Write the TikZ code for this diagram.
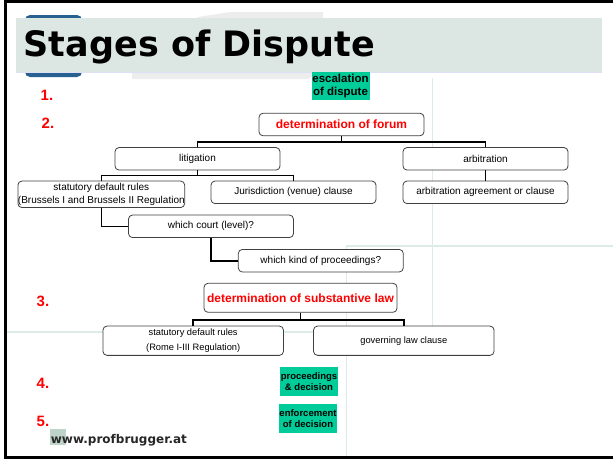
\documentclass[tikz,border=0pt]{standalone}
\usepackage{fontspec}
\setmainfont{Liberation Sans}
\newfontfamily\titlefont{DejaVu Sans}
\usetikzlibrary{positioning}

\definecolor{bandgray}{RGB}{220,230,226}
\definecolor{bandedge}{RGB}{222,224,245}
\definecolor{stepgreen}{RGB}{0,204,153}
\definecolor{faintline}{RGB}{222,236,233}
\definecolor{logoblue}{RGB}{40,96,145}
\definecolor{stepred}{RGB}{255,0,0}
\definecolor{sitesquare}{RGB}{190,212,202}

\begin{document}
\begin{tikzpicture}[
    x=1pt, y=-1pt,
    box/.style={draw=black!75, fill=white, rounded corners=4pt, line width=0.8pt,
        inner sep=0pt, align=center, minimum width=165pt, minimum height=22.5pt,
        font=\fontsize{10}{12.5}\selectfont},
    lowbox/.style={box, minimum width=180.5pt, minimum height=29.3pt,
        font=\fontsize{9.3}{15}\selectfont},
    headbox/.style={box, text=stepred, font=\fontsize{12}{14}\selectfont\bfseries},
    greenbox/.style={fill=stepgreen, inner sep=0pt, align=center,
        minimum width=58pt, minimum height=28.5pt,
        font=\fontsize{9.5}{11}\selectfont\bfseries},
    stepnum/.style={text=stepred, font=\fontsize{15}{15}\selectfont\bfseries},
    link/.style={draw, line width=1.6pt}
    ]
    \useasboundingbox (0,0) rectangle (613,459);

    % background pictures of the slide
    \fill[faintline] (431.5,78) rectangle (433,332.5);
    \fill[faintline] (5,331) rectangle (433,332.5);
    \fill[faintline] (345.5,245) rectangle (613,246.5);
    \fill[faintline] (345.5,245) rectangle (347,459);
    \fill[logoblue, rounded corners=5pt] (25,15) rectangle (82,77);
    \fill[gray!14] (198,17) -- (230,12) -- (323,12) -- (323,72) -- (307,79)
        -- (132,79) -- (132,72) -- cycle;
    \fill[bandgray] (16,18) rectangle (602,71.5);
    \fill[bandedge] (16,71.5) rectangle (602,73);

    % frame
    \draw[line width=2.7pt] (613,1.5) -- (5.3,1.5) -- (5.3,457.6) -- (613,457.6);

    \node[anchor=base west, inner sep=0pt,
        font=\titlefont\fontsize{35}{35}\selectfont\bfseries] (title) at (23.5,56.7) {Stages of Dispute};

    % step numbers
    \node[stepnum] (n1) at (47,95) {1.};
    \node[stepnum] (n2) at (48,123) {2.};
    \node[stepnum] (n3) at (43,301) {3.};
    \node[stepnum] (n4) at (43,383.5) {4.};
    \node[stepnum] (n5) at (43,421.5) {5.};

    % step 1
    \node[greenbox, font=\fontsize{11.5}{12.5}\selectfont\bfseries] (escal) at (340.5,85.8) {escalation\\of dispute};

    % step 2
    \node[headbox] (forum) at (341.5,124.5) {determination of forum};
    \node[box] (litig) at (197.5,158.8) {litigation};
    \node[box] (arbit) at (485.5,158.8) {arbitration};
    \node[box, minimum height=26.5pt] (statrules) at (101.3,194.3)
        {statutory default rules\\(Brussels I and Brussels II Regulation};
    \node[box] (venue) at (293.5,192.3) {Jurisdiction (venue) clause};
    \node[box] (arbclause) at (485.5,192.3) {arbitration agreement or clause};
    \node[box] (court) at (211,226.3) {which court (level)?};
    \node[box] (prockind) at (320.8,260.7) {which kind of proceedings?};

    \path[link] (forum.south) -- ++(0,6) -| (litig.north);
    \path[link] (forum.south) ++(0,6) -| (arbit.north);
    \path[link] (litig.south) -- ++(0,5) -| (statrules.north);
    \path[link] (litig.south) ++(0,5) -| (venue.north);
    \path[link] (arbit.south) -- (arbclause.north);
    \path[link] (statrules.south) |- (court.west);
    \path[link] (court.south) |- (prockind.west);

    % step 3
    \node[headbox, minimum width=193pt, minimum height=29pt] (lawdet) at (300.5,297.8)
        {determination of substantive law};
    \node[lowbox] (romerules) at (193.2,340.7) {statutory default rules\\(Rome I-III Regulation)};
    \node[lowbox] (lawclause) at (403.8,340.7) {governing law clause};

    \path[link] (lawdet.south) -- ++(0,7) -| (romerules.north);
    \path[link] (lawdet.south) ++(0,7) -| (lawclause.north);

    % steps 4 and 5
    \node[greenbox] (procdec) at (309,381.7) {proceedings\\\& decision};
    \node[greenbox] (enforce) at (308,418.3) {enforcement\\of decision};

    \fill[sitesquare] (50,429) rectangle (65.7,445);
    \node[anchor=base west, inner sep=0pt, text=black!85,
        font=\titlefont\fontsize{12}{12}\selectfont\bfseries] (site) at (50.7,443) {www.profbrugger.at};
\end{tikzpicture}
\end{document}
